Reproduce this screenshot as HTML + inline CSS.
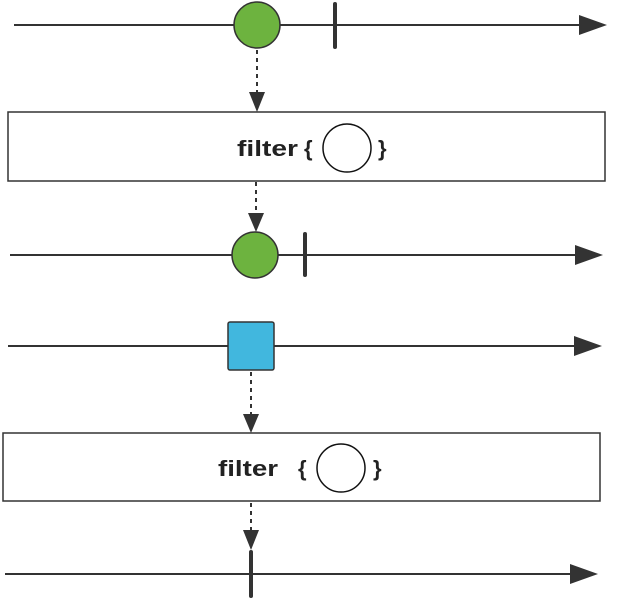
<!DOCTYPE html>
<html><head><style>body{margin:0;background:#fff}svg{display:block}</style></head><body>
<svg width="640" height="599" viewBox="0 0 640 599" xmlns="http://www.w3.org/2000/svg">
<g stroke="#333" stroke-width="2" fill="none">
<line x1="14" y1="25" x2="585" y2="25"/>
<line x1="10" y1="255" x2="580" y2="255"/>
<line x1="8" y1="346" x2="580" y2="346"/>
<line x1="5" y1="574" x2="575" y2="574"/>
<g stroke-dasharray="4,4" stroke-width="2">
<line x1="257" y1="50" x2="257" y2="95"/>
<line x1="256" y1="182" x2="256" y2="215"/>
<line x1="251" y1="372" x2="251" y2="416"/>
<line x1="251" y1="503" x2="251" y2="532"/>
</g>
</g>
<g fill="#333">
<polygon points="579,15 607,25 579,35"/>
<polygon points="575,245 603,255 575,265"/>
<polygon points="574,336 602,346 574,356"/>
<polygon points="570,564 598,574 570,584"/>
<polygon points="249,92 265,92 257,112"/>
<polygon points="248,213 264,213 256,232"/>
<polygon points="243,414 259,414 251,433"/>
<polygon points="243,530 259,530 251,550"/>
</g>
<g stroke="#333" stroke-width="4" stroke-linecap="round">
<line x1="335" y1="4" x2="335" y2="47"/>
<line x1="305" y1="234" x2="305" y2="275"/>
<line x1="251" y1="552" x2="251" y2="596"/>
</g>
<rect x="8" y="112" width="597" height="69" fill="#fff" stroke="#333" stroke-width="1.5"/>
<rect x="3" y="433" width="597" height="68" fill="#fff" stroke="#333" stroke-width="1.5"/>
<circle cx="257" cy="25" r="23" fill="#6db33f" stroke="#333" stroke-width="1.5"/>
<circle cx="255" cy="255" r="23" fill="#6db33f" stroke="#333" stroke-width="1.5"/>
<rect x="228" y="322" width="46" height="48" rx="2" fill="#41b7de" stroke="#333" stroke-width="1.5"/>
<circle cx="347" cy="148" r="24" fill="#fff" stroke="#111" stroke-width="1.5"/>
<circle cx="341" cy="468" r="24" fill="#fff" stroke="#111" stroke-width="1.5"/>
<g font-family="Liberation Sans, sans-serif" font-weight="bold" font-size="22" fill="#222">
<text x="237" y="156" textLength="61" lengthAdjust="spacingAndGlyphs">filter</text>
<text x="304" y="156">{</text>
<text x="378" y="156">}</text>
<text x="218" y="476" textLength="60" lengthAdjust="spacingAndGlyphs">filter</text>
<text x="298" y="476">{</text>
<text x="373" y="476">}</text>
</g>
</svg>
</body></html>
